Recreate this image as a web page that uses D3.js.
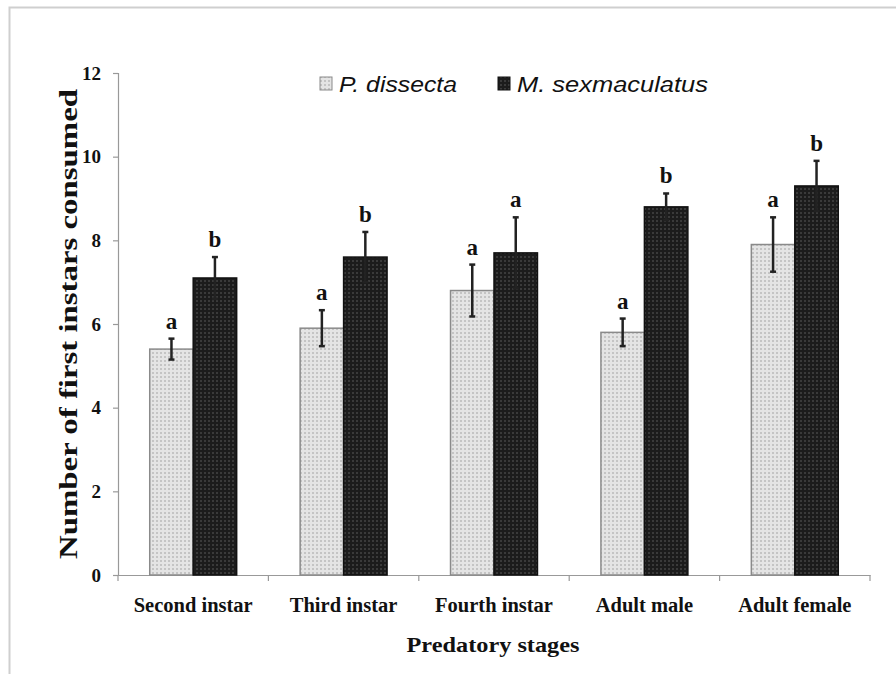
<!DOCTYPE html>
<html>
<head>
<meta charset="utf-8">
<script src="https://cdn.jsdelivr.net/npm/d3@7"></script>
<style>
  html, body { margin: 0; padding: 0; background: #fff; }
  svg { display: block; }
</style>
</head>
<body>
<script>
const categories = ["Second instar", "Third instar", "Fourth instar", "Adult male", "Adult female"];
const seriesNames = ["P. dissecta", "M. sexmaculatus"];
const pDissecta = [5.4, 5.9, 6.8, 5.8, 7.9];
const mSexmaculatus = [7.1, 7.6, 7.7, 8.8, 9.3];
const pDissectaErr = [0.25, 0.43, 0.62, 0.33, 0.65];
const mSexmaculatusErr = [0.5, 0.6, 0.85, 0.32, 0.6];
const pDissectaLetters = ["a", "a", "a", "a", "a"];
const mSexmaculatusLetters = ["b", "b", "a", "b", "b"];
const yTicks = [0, 2, 4, 6, 8, 10, 12];

(function () {
const W = 896, H = 674;
const svg = d3.select("body").append("svg").attr("width", W).attr("height", H);

const defs = svg.append("defs");
const pl = defs.append("pattern").attr("id", "patLight").attr("patternUnits", "userSpaceOnUse")
  .attr("width", 4).attr("height", 4);
pl.append("rect").attr("width", 4).attr("height", 4).attr("fill", "#e4e4e4");
pl.append("rect").attr("x", 0).attr("y", 0).attr("width", 2).attr("height", 2).attr("fill", "#c4c4c4");
const pd = defs.append("pattern").attr("id", "patDark").attr("patternUnits", "userSpaceOnUse")
  .attr("width", 4).attr("height", 4);
pd.append("rect").attr("width", 4).attr("height", 4).attr("fill", "#1c1c1c");
pd.append("rect").attr("x", 0).attr("y", 0).attr("width", 2).attr("height", 2).attr("fill", "#3a3a3a");

// outer frame
svg.append("rect").attr("x", 9.5).attr("y", 7.5).attr("width", 900).attr("height", 700)
  .attr("fill", "none").attr("stroke", "#cfcfcf").attr("stroke-width", 2);

const mLeft = 118, mRight = 870, mTop = 73, mBottom = 575;
const x0 = d3.scaleBand().domain(categories).range([mLeft, mRight]).paddingInner(0).paddingOuter(0);
const x1 = d3.scaleBand().domain(seriesNames).range([0, x0.bandwidth()]).paddingInner(0).paddingOuter(0.73);
const y = d3.scaleLinear().domain([0, 12]).range([mBottom, mTop]);

// axes
const yAxis = svg.append("g").attr("transform", `translate(${mLeft},0)`)
  .call(d3.axisLeft(y).tickValues(yTicks).tickSize(5).tickFormat(d3.format("d")));
yAxis.select(".domain").attr("stroke", "#999").attr("stroke-width", 1.2);
yAxis.selectAll(".tick line").attr("stroke", "#999").attr("stroke-width", 1.2);
yAxis.selectAll(".tick text").attr("x", -17)
  .attr("font-family", "Liberation Serif, serif").attr("font-weight", "bold").attr("font-size", 19).attr("fill", "#111");

const xAxis = svg.append("g").attr("transform", `translate(0,${mBottom})`)
  .call(d3.axisBottom(x0).tickSize(0).tickSizeOuter(0));
xAxis.select(".domain").attr("stroke", "#999").attr("stroke-width", 1.2);
xAxis.selectAll(".tick text").attr("dy", 0).attr("y", 37)
  .attr("font-family", "Liberation Serif, serif").attr("font-weight", "bold").attr("font-size", 20.5).attr("fill", "#111");
// category boundary ticks
const bounds = categories.map(c => x0(c)).concat([x0(categories[categories.length - 1]) + x0.bandwidth()]);
svg.append("g").selectAll("line").data(bounds).join("line")
  .attr("x1", d => d).attr("x2", d => d).attr("y1", mBottom).attr("y2", mBottom + 6)
  .attr("stroke", "#999").attr("stroke-width", 1.2);

// bars
const series = [
  { name: seriesNames[0], vals: pDissecta, errs: pDissectaErr, letters: pDissectaLetters, fill: "url(#patLight)", stroke: "#8a8a8a" },
  { name: seriesNames[1], vals: mSexmaculatus, errs: mSexmaculatusErr, letters: mSexmaculatusLetters, fill: "url(#patDark)", stroke: "#111" }
];
series.forEach(s => {
  const g = svg.append("g");
  const data = categories.map((c, i) => ({ c, v: s.vals[i], e: s.errs[i], l: s.letters[i] }));
  g.selectAll("rect").data(data).join("rect")
    .attr("x", d => x0(d.c) + x1(s.name))
    .attr("y", d => y(d.v))
    .attr("width", x1.bandwidth())
    .attr("height", d => y(0) - y(d.v))
    .attr("fill", s.fill).attr("stroke", s.stroke).attr("stroke-width", 1.5);
  const cx = d => x0(d.c) + x1(s.name) + x1.bandwidth() / 2;
  g.selectAll("line.err").data(data).join("line").attr("class", "err")
    .attr("x1", cx).attr("x2", cx).attr("y1", d => y(d.v + d.e)).attr("y2", d => y(d.v - d.e))
    .attr("stroke", "#222").attr("stroke-width", 2.5);
  ["top", "bot"].forEach(k => {
    g.selectAll("line.cap" + k).data(data).join("line").attr("class", "cap" + k)
      .attr("x1", d => cx(d) - 3).attr("x2", d => cx(d) + 3)
      .attr("y1", d => y(k === "top" ? d.v + d.e : d.v - d.e))
      .attr("y2", d => y(k === "top" ? d.v + d.e : d.v - d.e))
      .attr("stroke", "#222").attr("stroke-width", 2.5);
  });
  g.selectAll("text").data(data).join("text")
    .attr("x", cx).attr("y", d => y(d.v + d.e) - 10)
    .attr("text-anchor", "middle")
    .attr("font-family", "Liberation Serif, serif").attr("font-weight", "bold").attr("font-size", 23).attr("fill", "#111")
    .text(d => d.l);
});

// axis titles
svg.append("text").attr("transform", `translate(77,${(mTop + mBottom) / 2}) rotate(-90)`)
  .attr("text-anchor", "middle")
  .attr("font-family", "Liberation Serif, serif").attr("font-weight", "bold").attr("font-size", 25).attr("fill", "#111")
  .attr("textLength", 470).attr("lengthAdjust", "spacingAndGlyphs")
  .text("Number of first instars consumed");
svg.append("text").attr("x", 493).attr("y", 652).attr("text-anchor", "middle")
  .attr("font-family", "Liberation Serif, serif").attr("font-weight", "bold").attr("font-size", 22).attr("fill", "#111")
  .attr("textLength", 173).attr("lengthAdjust", "spacingAndGlyphs")
  .text("Predatory stages");

// legend
const legendX = [320, 498];
const legendLen = [118, 191];
const lg = svg.append("g");
series.forEach((s, i) => {
  lg.append("rect").attr("x", legendX[i]).attr("y", 77).attr("width", 12).attr("height", 13)
    .attr("fill", s.fill).attr("stroke", s.stroke).attr("stroke-width", 1);
  lg.append("text").attr("x", legendX[i] + 19).attr("y", 92)
    .attr("font-family", "Liberation Sans, sans-serif").attr("font-style", "italic").attr("font-size", 22).attr("fill", "#111")
    .attr("textLength", legendLen[i]).attr("lengthAdjust", "spacingAndGlyphs")
    .text(s.name);
});
})();
</script>
</body>
</html>
